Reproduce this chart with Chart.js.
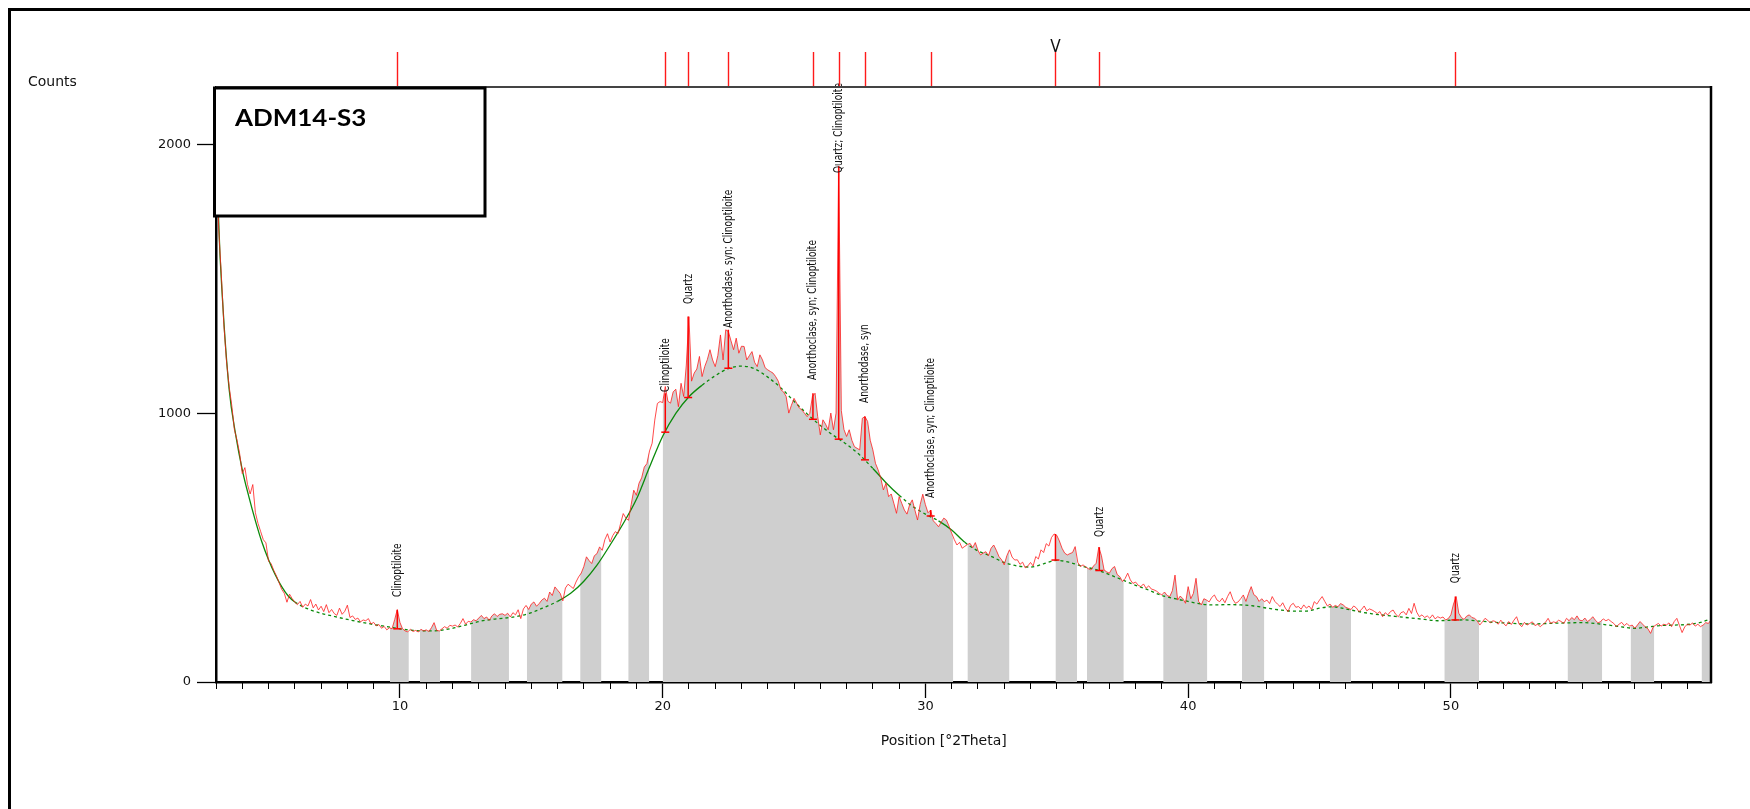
<!DOCTYPE html>
<html>
<head>
<meta charset="utf-8">
<title>ADM14-S3 XRD</title>
<script src="https://cdn.jsdelivr.net/npm/chart.js@4.4.1/dist/chart.umd.min.js"></script>
<style>
  html, body { margin: 0; padding: 0; background: #fff; }
  #wrap { width: 1750px; height: 809px; position: relative; }
  canvas { display: block; }
</style>
</head>
<body>
<div id="wrap"><canvas id="xrd" width="1750" height="809"></canvas></div>
<script>
// ---------------- DATA ----------------
const sampleName = 'ADM14-S3';
const xTitle = 'Position [°2Theta]';
const yTitle = 'Counts';
const thetaStart = 3.0;   // first scan position [°2Theta]
const thetaStep = 0.1;    // scan step [°2Theta]

// observed counts, one row per degree (x.0 ... x.9)
const counts = [
  2150,1690,1520,1330,1195,1100,1030,940,900,850,
  776,798,735,700,735,630,590,560,530,518,
  450,440,415,395,370,345,330,297,327,310,
  297,288,300,278,290,283,307,276,290,268,
  282,262,288,258,270,255,248,275,252,263,
  286,240,246,233,238,224,231,228,236,216,
  222,209,214,200,207,194,202,198,232,270,
  222,198,190,187,196,188,192,186,196,190,
  194,188,202,221,192,190,198,206,200,211,
  208,212,205,218,236,215,226,223,232,228,
  238,248,236,242,230,246,254,244,252,254,
  248,256,242,258,250,269,236,272,285,270,
  290,298,282,292,305,312,300,335,322,354,
  342,330,302,350,364,356,348,372,391,405,
  430,466,452,441,470,478,503,490,530,552,
  521,545,560,552,590,627,610,602,660,714,
  695,740,760,800,813,860,889,975,1037,1044,
  1040,1100,1045,1038,1080,1090,1025,1112,1063,1180,
  1360,1120,1150,1165,1212,1137,1174,1200,1237,1199,
  1174,1215,1292,1199,1311,1305,1270,1237,1280,1224,
  1250,1249,1199,1215,1230,1190,1174,1218,1199,1170,
  1162,1156,1150,1137,1120,1088,1080,1063,1001,1030,
  1056,1038,1020,1013,1000,988,1000,1063,1075,988,
  920,976,960,939,1001,939,1001,1920,1010,940,
  914,939,900,876,870,864,982,988,970,900,
  864,814,790,760,715,740,690,700,665,628,
  690,665,640,625,660,678,640,603,660,699,
  660,630,640,600,590,578,595,610,603,580,
  554,530,510,520,498,505,512,516,500,519,
  490,473,480,485,470,498,510,490,467,455,
  436,470,492,465,454,455,438,446,425,432,
  445,432,467,458,492,482,515,506,538,551,
  546,525,498,480,473,478,482,504,445,430,
  436,428,422,417,432,442,502,470,417,410,
  405,422,430,400,392,374,385,405,380,367,
  372,360,355,365,349,358,346,343,338,330,
  324,335,322,318,340,398,305,320,310,293,
  355,310,330,386,300,287,310,305,298,315,
  324,305,299,312,295,318,336,308,293,298,
  310,324,300,330,355,325,318,300,310,299,
  305,292,318,300,290,281,295,275,262,285,
  293,278,281,271,287,275,283,270,299,290,
  305,318,300,283,290,278,285,280,292,287,
  278,274,270,283,276,262,270,283,265,272,
  268,262,255,262,243,258,250,262,268,252,
  243,258,262,250,274,255,293,260,243,250,
  240,246,237,250,235,243,238,242,231,236,
  250,290,318,256,240,233,245,250,240,237,
  228,212,224,237,230,220,228,225,215,230,
  218,209,225,214,230,243,215,206,222,212,
  218,224,210,215,206,214,222,237,218,224,
  221,230,225,218,237,228,240,232,246,230,
  228,238,225,232,243,230,220,225,235,228,
  233,225,218,206,215,222,210,218,208,212,
  200,212,225,215,205,198,181,205,212,218,
  208,215,212,220,206,225,237,210,184,205,
  215,212,220,208,215,206,212,221,218,231
];

// fitted background
const backgroundTheta = [3.0,3.1,3.25,3.5,3.75,4.0,4.25,4.5,4.75,5.0,5.25,5.5,5.75,6.0,6.5,7.0,7.5,8.0,8.5,9.0,9.5,10.0,10.5,11.0,11.5,12.0,12.5,13.0,13.5,14.0,14.5,15.0,15.5,16.0,16.5,17.0,17.5,18.0,18.5,19.0,19.5,20.0,20.5,21.0,21.5,22.0,22.5,23.0,23.5,24.0,24.5,25.0,25.5,26.0,26.5,27.0,27.5,28.0,28.5,29.0,29.5,30.0,30.5,31.0,31.5,32.0,32.5,33.0,33.5,34.0,34.5,35.0,35.5,36.0,36.5,37.0,37.5,38.0,38.5,39.0,39.5,40.0,40.5,41.0,41.5,42.0,42.5,43.0,43.5,44.0,44.5,45.0,45.5,46.0,46.5,47.0,47.5,48.0,48.5,49.0,49.5,50.0,50.5,51.0,51.5,52.0,53.0,54.0,55.0,56.0,56.5,57.0,57.5,58.0,58.5,59.0,59.5,59.9];
const backgroundCounts = [2150,1720,1420,1090,920,790,690,600,520,455,400,355,320,298,272,256,244,233,223,214,206,198,192,190,192,200,212,225,233,238,245,258,278,300,330,375,435,510,590,680,800,915,1000,1062,1105,1140,1167,1176,1166,1135,1095,1045,998,955,918,885,845,795,742,695,655,625,600,566,520,488,468,445,432,428,440,453,445,430,418,400,380,360,342,322,310,300,290,287,288,287,283,275,268,264,264,275,280,272,262,254,248,243,238,233,228,230,231,228,223,220,216,219,221,212,205,200,205,210,212,214,222,235];
// ranges where the background is drawn solid (elsewhere dotted)
const solidBackgroundRanges = [[3, 6], [16, 21.5], [28, 29], [30.5, 31.5]];

// grey fit regions [from, to] in °2Theta
const fitRegions = [[9.62,10.34],[10.76,11.53],[12.71,14.15],[14.83,16.19],[16.86,17.67],[18.69,19.49],[20.0,31.06],[31.6,33.2],[34.95,35.77],[36.15,37.55],[39.05,40.73],[42.05,42.9],[45.39,46.2],[49.75,51.07],[54.44,55.76],[56.84,57.74],[59.54,59.9]];

// identified peaks: position, background level, peak top
const peakTheta = [9.9, 20.1, 20.97, 22.5, 25.72, 26.7, 27.7, 30.2, 34.95, 36.62, 50.17];
const peakBase  = [198, 930, 1059, 1168, 978, 904, 827, 618, 454, 415, 231];
const peakTop   = [268, 1075, 1361, 1311, 1075, 1920, 988, 640, 551, 502, 318];

// reference marks above the plot
const refTheta = [9.9, 20.1, 20.97, 22.5, 25.72, 26.7, 27.7, 30.2, 34.95, 36.62, 50.17];
const markedRef = 34.95;

// phase labels
const labelTheta  = [9.9, 20.1, 20.97, 22.5, 25.72, 26.7, 27.7, 30.2, 36.62, 50.17];
const labelText   = ['Clinoptiloite', 'Clinoptiloite', 'Quartz', 'Anorthodase, syn; Clinoptiloite', 'Anorthoclase, syn; Clinoptiloite', 'Quartz; Clinoptiloite', 'Anorthodase, syn', 'Anorthoclase, syn; Clinoptiloite', 'Quartz', 'Quartz'];
const labelCounts = [316, 1080, 1407, 1318, 1124, 1895, 1039, 685, 540, 368];

// axes
const xMin = 3.0, xMax = 59.9;
const xMajorTicks = [10, 20, 30, 40, 50];
const xTitleAt = 30.7;   // x-axis title centre [°2Theta]
const yMin = 0, yMax = 2215;
const yTicks = [0, 1000, 2000];

// ---------------- BUILD ----------------
const theta = counts.map((_, i) => Math.round((thetaStart + i * thetaStep) * 100) / 100);
const scanData = counts.map((c, i) => ({ x: theta[i], y: c }));
const bgData = backgroundTheta.map((t, i) => ({ x: t, y: backgroundCounts[i] }));

const nearest = t => Math.max(0, Math.min(counts.length - 1, Math.round((t - thetaStart) / thetaStep)));
const regionData = [];
fitRegions.forEach(([a, b]) => {
  regionData.push({ x: a, y: counts[nearest(a)] });
  theta.forEach((t, i) => { if (t > a && t < b) regionData.push({ x: t, y: counts[i] }); });
  regionData.push({ x: b, y: counts[nearest(b)] });
  regionData.push({ x: b + 0.001, y: null });
});

const markerData = [];
peakTheta.forEach((p, i) => {
  markerData.push({ x: p, y: peakBase[i], cap: true });
  markerData.push({ x: p, y: peakTop[i] });
  markerData.push({ x: p + 0.0001, y: null });
});

const xMinorTicks = [];
for (let v = Math.ceil(xMin); v <= Math.floor(xMax); v++) if (!xMajorTicks.includes(v)) xMinorTicks.push(v);

const isSolid = v => solidBackgroundRanges.some(([a, b]) => v >= a - 1e-9 && v < b - 1e-9);

const tickFont = { family: '"DejaVu Sans", "Liberation Sans", sans-serif', size: 13 };
const LABEL_FONT = '13px "Liberation Sans Narrow", "Arial Narrow", "DejaVu Sans Condensed", sans-serif';

const extras = {
  id: 'xrdExtras',
  beforeDraw(chart) {
    const { ctx, width, height } = chart;
    ctx.save();
    ctx.fillStyle = '#fff';
    ctx.fillRect(0, 0, width, height);
    ctx.restore();
  },
  afterDatasetsDraw(chart) {
    const { ctx, scales: { x, y } } = chart;
    ctx.save();
    ctx.font = LABEL_FONT;
    ctx.fillStyle = '#111';
    const w = ctx.measureText('Anorthoclase, syn; Clinoptiloite').width;
    const squeeze = Math.min(1, 140 / w);
    labelText.forEach((t, i) => {
      ctx.save();
      ctx.translate(x.getPixelForValue(labelTheta[i]), y.getPixelForValue(labelCounts[i]));
      ctx.rotate(-Math.PI / 2);
      ctx.scale(squeeze, 1);
      ctx.textAlign = 'left';
      ctx.textBaseline = 'middle';
      ctx.fillText(t, 0, 0);
      ctx.restore();
    });
    ctx.restore();
  },
  afterDraw(chart) {
    const { ctx, chartArea: a, scales: { x } } = chart;
    ctx.save();
    // reference marks above plot
    ctx.strokeStyle = '#ff1a1a';
    ctx.lineWidth = 1.4;
    refTheta.forEach(t => {
      const px = Math.round(x.getPixelForValue(t)) + 0.5;
      ctx.beginPath();
      ctx.moveTo(px, 52);
      ctx.lineTo(px, a.top);
      ctx.stroke();
    });
    // "V" marker
    ctx.fillStyle = '#111';
    ctx.font = '17px "Liberation Sans Narrow", "DejaVu Sans Condensed", sans-serif';
    ctx.textAlign = 'center';
    ctx.textBaseline = 'alphabetic';
    ctx.fillText('V', x.getPixelForValue(markedRef), 52);
    // plot frame top / right
    ctx.strokeStyle = '#444';
    ctx.lineWidth = 2;
    ctx.beginPath();
    ctx.moveTo(a.left, a.top);
    ctx.lineTo(a.right, a.top);
    ctx.stroke();
    ctx.strokeStyle = '#000';
    ctx.lineWidth = 2.5;
    ctx.beginPath();
    ctx.moveTo(a.right, a.top - 1);
    ctx.lineTo(a.right, a.bottom + 1);
    ctx.stroke();
    // outer frame
    ctx.lineWidth = 3;
    ctx.strokeRect(9.5, 9.5, 1800, 900);
    // axis titles
    ctx.fillStyle = '#111';
    ctx.font = '14px "DejaVu Sans", "Liberation Sans", sans-serif';
    ctx.textAlign = 'left';
    ctx.textBaseline = 'alphabetic';
    ctx.fillText(yTitle, 28, 86);
    ctx.textAlign = 'center';
    ctx.textBaseline = 'middle';
    ctx.fillText(xTitle, x.getPixelForValue(xTitleAt), 741);
    // sample name box
    ctx.fillStyle = '#fff';
    ctx.fillRect(214.5, 88, 270.5, 128);
    ctx.lineWidth = 3;
    ctx.strokeStyle = '#000';
    ctx.strokeRect(214.5, 88, 270.5, 128);
    ctx.fillStyle = '#000';
    ctx.font = 'bold 22px Lato, "Open Sans", sans-serif';
    ctx.textAlign = 'left';
    ctx.textBaseline = 'alphabetic';
    ctx.save();
    ctx.translate(235, 126);
    ctx.scale(1.18, 1);
    ctx.fillText(sampleName, 0, 0);
    ctx.restore();
    ctx.restore();
  }
};

new Chart(document.getElementById('xrd'), {
  type: 'line',
  data: {
    datasets: [
      {
        label: 'peaks', data: markerData, order: 0,
        borderColor: '#ff0000', borderWidth: 1.5, spanGaps: false, fill: false,
        pointStyle: 'line', pointRotation: 0,
        pointRadius: c => (c.raw && c.raw.cap) ? 4 : 0,
        pointBorderColor: '#ff0000', pointBorderWidth: 1.5, pointHoverRadius: 0
      },
      {
        label: 'scan', data: scanData, order: 1,
        borderColor: 'rgba(255,30,30,0.8)', borderWidth: 1, pointRadius: 0, tension: 0, fill: false
      },
      {
        label: 'background', data: bgData, order: 2,
        borderColor: '#0b8a0b', borderWidth: 1.3, pointRadius: 0, fill: false,
        cubicInterpolationMode: 'monotone',
        segment: { borderDash: c => isSolid(c.p0.parsed.x) ? [] : [3, 3] }
      },
      {
        label: 'regions', data: regionData, order: 3,
        borderWidth: 0, borderColor: 'rgba(0,0,0,0)', pointRadius: 0, spanGaps: false,
        fill: 'origin', backgroundColor: '#cfcfcf', tension: 0
      }
    ]
  },
  options: {
    responsive: false,
    maintainAspectRatio: false,
    devicePixelRatio: 1,
    animation: false,
    events: [],
    layout: { padding: { top: 87, right: 39, left: 0, bottom: 0 } },
    plugins: { legend: { display: false }, tooltip: { enabled: false } },
    scales: {
      x: {
        type: 'linear', position: 'bottom', min: xMin, max: xMax, weight: 1,
        afterFit: s => { s.height = 127; },
        afterBuildTicks: s => { s.ticks = xMajorTicks.map(v => ({ value: v })); },
        ticks: { font: tickFont, color: '#111', padding: 1, maxRotation: 0, autoSkip: false,
                 callback: v => String(v) },
        grid: { drawOnChartArea: false, drawTicks: true, tickLength: 16, tickColor: '#000', tickWidth: 1.3 },
        border: { display: true, color: '#000', width: 2.5 }
      },
      x2: {
        type: 'linear', position: 'bottom', min: xMin, max: xMax, weight: 0,
        afterFit: s => { s.height = 0; },
        afterBuildTicks: s => { s.ticks = xMinorTicks.map(v => ({ value: v })); },
        ticks: { display: false },
        grid: { drawOnChartArea: false, drawTicks: true, tickLength: 7, tickColor: '#000', tickWidth: 1 },
        border: { display: false }
      },
      y: {
        type: 'linear', position: 'left', min: yMin, max: yMax,
        afterFit: s => { s.width = 216; },
        afterBuildTicks: s => { s.ticks = yTicks.map(v => ({ value: v })); },
        ticks: { font: tickFont, color: '#111', padding: 6, callback: v => String(v) },
        grid: { drawOnChartArea: false, drawTicks: true, tickLength: 19, tickColor: '#000', tickWidth: 1.3 },
        border: { display: true, color: '#000', width: 2.5 }
      }
    }
  },
  plugins: [extras]
});
</script>
</body>
</html>
